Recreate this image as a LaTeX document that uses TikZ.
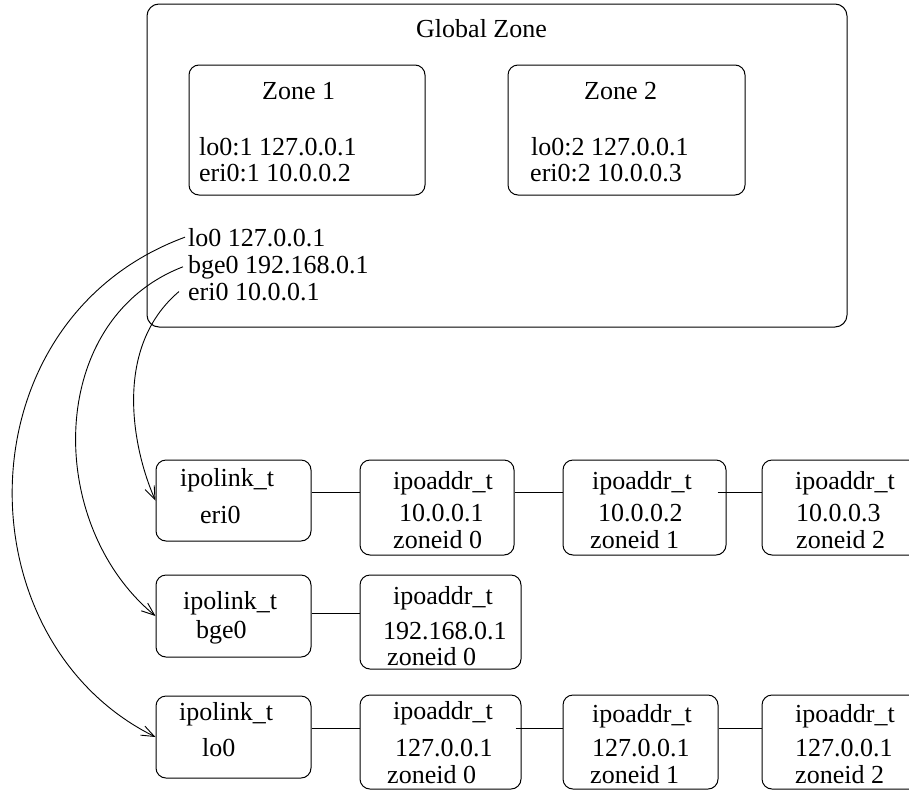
\documentclass[tikz,border=0pt]{standalone}
\usepackage{fontspec}
\setmainfont{Liberation Serif}
\usetikzlibrary{arrows.meta}
\begin{document}
\begin{tikzpicture}[x=1pt,y=-1pt,
  every node/.style={font=\fontsize{26}{28}\selectfont},
  box/.style={draw,line width=1pt,rounded corners=10pt,inner sep=0pt,anchor=center},
  txt/.style={anchor=base west,inner sep=0pt},
  link/.style={line width=1pt},
  ptr/.style={line width=0.9pt,-{Straight Barb[length=13pt,width=10pt,line width=0.9pt]}}]
\useasboundingbox (0,0) rectangle (909,790);
\clip (0,0) rectangle (909,790);
% zones
\node[box,rounded corners=12pt,minimum width=700pt,minimum height=323pt] (gz) at (497,165.5) {};
\node[box,minimum width=236pt,minimum height=130pt] (z1) at (307,130) {};
\node[box,minimum width=237pt,minimum height=130pt] (z2) at (626.5,130) {};
\node[txt] (gzt) at (416,37) {Global Zone};
\node[txt] (z1t) at (262,99) {Zone 1};
\node[txt] (z1a) at (199,155) {lo0:1 127.0.0.1};
\node[txt] (z1b) at (199,181) {eri0:1 10.0.0.2};
\node[txt] (z2t) at (584,99) {Zone 2};
\node[txt] (z2a) at (531,155) {lo0:2 127.0.0.1};
\node[txt] (z2b) at (530,181) {eri0:2 10.0.0.3};
\node[txt] (g1) at (188,246) {lo0 127.0.0.1};
\node[txt] (g2) at (188,273) {bge0 192.168.0.1};
\node[txt] (g3) at (188,300) {eri0 10.0.0.1};
% row 1
\node[box,minimum width=155pt,minimum height=81pt] (l1) at (233.5,500.5) {};
\node[box,minimum width=154pt,minimum height=95pt] (a11) at (437,507.5) {};
\node[box,minimum width=163pt,minimum height=95pt] (a12) at (644.5,507.5) {};
\node[box,minimum width=158pt,minimum height=95pt] (a13) at (841,507.5) {};
\node[txt] (l1a) at (180,486) {ipolink\_t};
\node[txt] (l1b) at (200,523) {eri0};
\node[txt] (a11a) at (393,489) {ipoaddr\_t};
\node[txt] (a11b) at (399,521) {10.0.0.1};
\node[txt] (a11c) at (393,548) {zoneid 0};
\node[txt] (a12a) at (592,489) {ipoaddr\_t};
\node[txt] (a12b) at (598,521) {10.0.0.2};
\node[txt] (a12c) at (590,548) {zoneid 1};
\node[txt] (a13a) at (795,489) {ipoaddr\_t};
\node[txt] (a13b) at (796,521) {10.0.0.3};
\node[txt] (a13c) at (796,548) {zoneid 2};
% row 2
\node[box,minimum width=155pt,minimum height=82pt] (l2) at (233.5,616) {};
\node[box,minimum width=161pt,minimum height=94pt] (a21) at (440.5,622) {};
\node[txt] (l2a) at (183,609) {ipolink\_t};
\node[txt] (l2b) at (196,638) {bge0};
\node[txt] (a21a) at (393,604) {ipoaddr\_t};
\node[txt] (a21b) at (383,639) {192.168.0.1};
\node[txt] (a21c) at (387,665) {zoneid 0};
% row 3
\node[box,minimum width=155pt,minimum height=82pt] (l3) at (233.5,737) {};
\node[box,minimum width=161pt,minimum height=94pt] (a31) at (440.5,742) {};
\node[box,minimum width=155pt,minimum height=94pt] (a32) at (640.5,742) {};
\node[box,minimum width=158pt,minimum height=94pt] (a33) at (841,742) {};
\node[txt] (l3a) at (179,720) {ipolink\_t};
\node[txt] (l3b) at (202,756) {lo0};
\node[txt] (a31a) at (393,719) {ipoaddr\_t};
\node[txt] (a31b) at (395,756) {127.0.0.1};
\node[txt] (a31c) at (387,783) {zoneid 0};
\node[txt] (a32a) at (592,722) {ipoaddr\_t};
\node[txt] (a32b) at (592,756) {127.0.0.1};
\node[txt] (a32c) at (590,783) {zoneid 1};
\node[txt] (a33a) at (795,722) {ipoaddr\_t};
\node[txt] (a33b) at (795,756) {127.0.0.1};
\node[txt] (a33c) at (795,783) {zoneid 2};
% list links
\draw[link] ([yshift=8.5pt]l1.east) -- ([yshift=8.5pt]l1.east -| a11.west);
\draw[link] ([yshift=15.5pt]a11.east) -- ([yshift=15.5pt]a11.east -| a12.west);
\draw[link] ([xshift=-9pt,yshift=15.5pt]a12.east) -- ([yshift=15.5pt]a12.east -| a13.west);
\draw[link] ([yshift=3pt]l2.east) -- ([yshift=3pt]l2.east -| a21.west);
\draw[link] ([yshift=9pt]l3.east) -- ([yshift=9pt]l3.east -| a31.west);
\draw[link] ([xshift=-6pt,yshift=14pt]a31.east) -- ([yshift=14pt]a31.east -| a32.west);
\draw[link] ([yshift=14pt]a32.east) -- ([yshift=14pt]a32.east -| a33.west);
% pointers
\draw[ptr] ([xshift=-3pt]g1.west) .. controls (-40,320) and (-40,640) .. (l3.west);
\draw[ptr] ([xshift=-5pt]g2.west) .. controls (45,320) and (45,525) .. (l2.west);
\draw[ptr] ([xshift=-9pt]g3.west) .. controls (110,350) and (135,455) .. (l1.west);
\end{tikzpicture}
\end{document}
